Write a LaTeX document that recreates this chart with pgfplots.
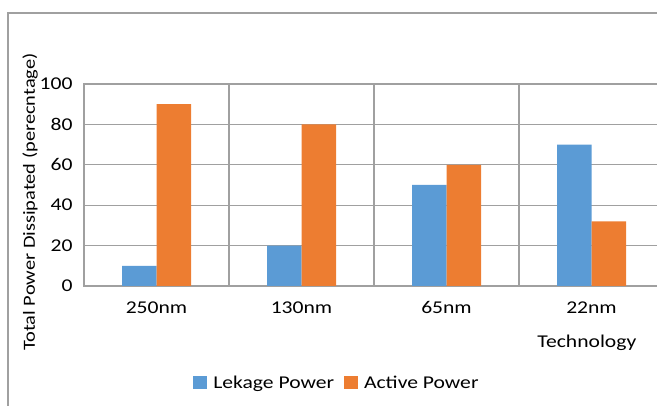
\documentclass[border=0pt]{standalone}
\usepackage{fontspec}
\setmainfont{Carlito}[FakeStretch=1.2]
\usepackage{pgfplots}
\pgfplotsset{compat=1.18}
\definecolor{gridgray}{HTML}{A0A0A0}
\definecolor{lekblue}{HTML}{5B9BD5}
\definecolor{actorange}{HTML}{ED7D31}
\begin{document}
\begin{tikzpicture}[x=1pt,y=1pt]
\useasboundingbox (0,0) rectangle (657,406);
\clip (0,0) rectangle (657,406);
% chart frame
\draw[gridgray, line width=1.2pt] (8,-5) -- (8,393) -- (700,393);
\begin{axis}[
  at={(84pt,120pt)}, anchor=south west,
  scale only axis, width=580pt, height=202pt,
  ybar=0pt, bar width=34.5pt,
  xmin=-0.5, xmax=3.5, ymin=0, ymax=100,
  xtick={0,1,2,3}, xticklabels={250nm,130nm,65nm,22nm},
  minor xtick={-0.5,0.5,1.5,2.5,3.5},
  ytick={0,20,...,100},
  major tick length=0pt, minor tick length=0pt,
  ymajorgrids, xminorgrids,
  grid style={gridgray, line width=1.2pt},
  axis line style={gridgray, line width=1.2pt},
  /pgf/number format/assume math mode=true,
  tick label style={font=\fontsize{18}{20}\selectfont, text=black},
  xticklabel style={yshift=-12pt},
  yticklabel style={xshift=-8pt},
  ylabel={Total Power Dissipated (perecntage)},
  ylabel style={at={(axis description cs:-0.093,0.416)}, anchor=center, rotate=0, font=\fontsize{17}{19}\selectfont},
  xlabel={Technology},
  xlabel style={at={(axis description cs:0.867,-0.282)}, anchor=center, font=\fontsize{18}{20}\selectfont},
  legend style={at={(axis description cs:0.436,-0.48)}, anchor=center, draw=none, fill=none,
    legend columns=2, font=\fontsize{18}{20}\selectfont,
    /tikz/every odd column/.append style={column sep=4pt},
    /tikz/every even column/.append style={column sep=8pt}},
  legend image code/.code={\fill[#1] (0pt,-6.5pt) rectangle (14pt,6.5pt);},
  clip=false,
]
\addplot[fill=lekblue, draw=none] coordinates {(0,10) (1,20) (2,50) (3,70)};
\addplot[fill=actorange, draw=none] coordinates {(0,90) (1,80) (2,60) (3,32)};
\legend{Lekage Power, Active Power}
\end{axis}
\end{tikzpicture}
\end{document}
